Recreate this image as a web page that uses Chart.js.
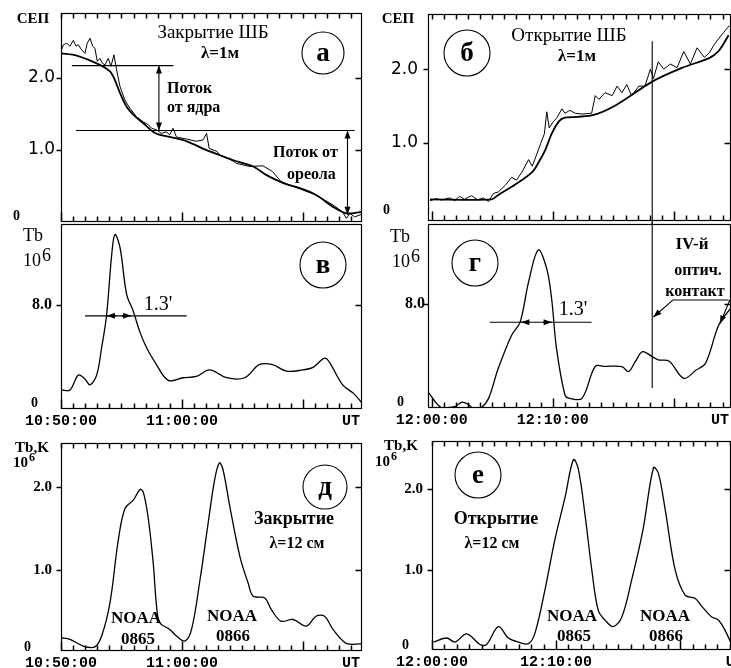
<!DOCTYPE html>
<html>
<head>
<meta charset="utf-8">
<title>СЕП и Tb</title>
<script src="https://cdn.jsdelivr.net/npm/chart.js@4.4.1/dist/chart.umd.min.js"></script>
<style>
  html, body { margin: 0; background: #fff; }
  #fig { position: relative; width: 731px; height: 668px; overflow: hidden; background: #fff; }
  #fig canvas { position: absolute; }
</style>
</head>
<body>
<div id="fig"></div>
<script>
// x values are minutes from the left edge of each record

// а: closing, lambda = 1 m
const aRawMin = [0,0.2,0.47,0.74,1.02,1.24,1.43,1.7,1.98,2.17,2.4,2.62,2.81,3.0,3.22,3.44,3.64,3.91,4.13,4.38,4.6,4.88,5.29,5.7,6.25,6.8,7.22,7.5,7.9,8.3,8.7,9.0,9.26,9.55,10.4,11.2,11.76,12.04,12.26,12.9,13.14,14.0,14.5,15.6,16.7,17.5,18.2,19.75,21.1,22.5,23.3,23.6,23.9,24.3,24.9];
const aRawSep = [2.37,2.46,2.48,2.44,2.52,2.44,2.46,2.39,2.34,2.48,2.55,2.44,2.41,2.23,2.27,2.2,2.18,2.27,2.16,2.32,2.11,1.88,1.69,1.58,1.46,1.39,1.35,1.3,1.28,1.23,1.25,1.21,1.30,1.18,1.15,1.12,1.14,1.23,1.02,0.98,0.93,0.87,0.815,0.77,0.78,0.70,0.56,0.46,0.375,0.236,0.14,0.05,0.12,0.07,0.11];
const aFitMin = [0,1.3,3.22,4.05,4.46,4.88,5.43,5.98,6.8,7.63,8.18,9.0,10.4,12.0,13.1,14.2,15.9,17.0,18.4,19.75,21.1,22.5,23.6,24.9];
const aFitSep = [2.34,2.31,2.18,2.09,1.97,1.79,1.60,1.49,1.37,1.25,1.21,1.18,1.12,1.0,0.93,0.86,0.77,0.65,0.54,0.47,0.375,0.21,0.12,0.14];

// б: opening, lambda = 1 m
const bRawMin = [0.17,0.72,1.1,1.8,2.2,2.6,3.0,3.6,4.1,4.55,5.0,5.4,5.8,6.37,6.9,7.3,7.75,8.3,8.6,8.9,9.3,9.6,9.8,10.0,10.35,10.6,11.05,11.3,11.7,12.15,12.7,13.5,13.8,14.1,14.6,15.2,15.6,16.0,16.4,16.8,17.4,17.9,18.35,18.6,19.0,19.45,20.0,20.55,21.1,21.65,22.2,22.8,23.2,23.6,24.0,24.4,24.85];
const bRawSep = [0.21,0.24,0.22,0.25,0.21,0.27,0.23,0.28,0.22,0.25,0.20,0.31,0.33,0.42,0.53,0.49,0.6,0.77,0.68,0.81,0.99,1.12,1.42,1.2,1.29,1.33,1.46,1.40,1.44,1.40,1.39,1.40,1.64,1.59,1.68,1.64,1.77,1.68,1.79,1.64,1.77,1.77,2.0,1.87,2.1,2.0,2.07,2.02,2.24,2.07,2.29,2.16,2.22,2.33,2.42,2.5,2.59];
const bFitMin = [0.17,5.26,5.8,7.2,8.6,9.12,9.67,10.2,10.8,11.3,13.5,15.5,18.5,21.0,23.2,24.0,24.8];
const bFitSep = [0.23,0.23,0.29,0.43,0.60,0.73,0.90,1.12,1.29,1.34,1.37,1.51,1.83,2.02,2.15,2.25,2.46];

// в / г: Tb, 10^6
const vMin = [0,0.74,1.43,1.98,2.4,2.95,3.36,3.77,4.19,4.46,4.88,5.43,5.98,6.53,7.08,7.77,8.87,10.1,11.2,12.3,13.7,15.2,16.4,17.5,18.65,20.0,20.85,21.8,22.2,23.3,24.2,24.9];
const vTb = [1.46,1.46,2.6,2.3,1.85,2.6,4.7,7.2,11.8,13.4,12.4,8.8,7.5,5.9,4.7,3.6,2.2,2.4,2.5,3.0,2.4,2.4,3.4,3.4,2.9,3.0,3.2,3.9,3.6,1.85,1.2,0.45];
const gMin = [0.03,1.1,2.2,2.8,3.3,3.9,4.4,5.0,5.8,6.9,7.6,8.3,9.1,9.8,10.2,10.6,11.3,11.7,12.7,13.8,14.6,16.0,16.55,17.1,17.7,18.5,19.0,19.9,21.1,22.1,22.9,24.0,25.0];
const gTb = [1.2,0.02,0.1,0.45,0.28,-0.15,0.02,0.74,3.05,5.6,6.6,9.7,12.15,10.7,8.4,4.6,1.0,0.74,0.74,3.2,3.2,3.18,2.8,3.56,4.33,3.95,3.7,3.6,2.28,2.9,3.44,6.4,7.7];

// д / е: Tb, K, 10^6, lambda = 12 cm
const dMin = [0,0.74,1.84,2.8,3.36,4.05,4.74,5.29,5.98,6.53,6.8,7.2,7.63,7.9,8.18,9.0,9.56,10.25,10.8,11.5,12.17,12.7,13.1,13.4,13.97,14.8,15.48,15.9,16.86,17.4,18.2,19.2,20.3,21.1,21.8,22.5,23.5,24.2,24.85];
const dTb = [0.18,0.16,0.08,0.07,0.2,0.6,1.36,1.74,1.84,1.97,1.94,1.64,1.08,0.57,0.36,0.28,0.2,0.14,0.28,0.88,1.56,2.08,2.29,2.21,1.76,1.16,0.84,0.68,0.66,0.52,0.38,0.4,0.32,0.44,0.44,0.28,0.12,0.1,0.11];
const eMin = [0.13,1.19,1.85,2.8,3.87,4.4,5.35,6.15,6.96,7.77,8.3,9.1,9.9,10.73,11.4,11.8,12.35,12.88,13.4,13.95,14.6,15.3,16.1,17.0,17.85,18.25,18.8,19.6,20.4,21.2,21.75,22.55,23.1,23.6,24.1];
const eTb = [0.11,0.16,0.11,0.21,0.08,0.08,0.3,0.16,0.11,0.09,0.22,0.75,1.37,1.9,2.36,2.24,1.66,1.0,0.5,0.38,0.3,0.42,0.88,1.49,2.26,2.19,1.74,1.0,0.69,0.65,0.55,0.42,0.38,0.26,0.1];

// tick labels
const closeTicks = [0, 10, 24];
const closeLabels = ['10:50:00', '11:00:00', 'UT'];
const openTicksG = [0.3, 10.3, 24.1];
const openTicksE = [0, 10, 24.4];
const openLabels = ['12:00:00', '12:10:00', 'UT'];
const sepTicks = [0, 1, 2];
const sepLabels = ['0', '1.0', '2.0'];
const tbTicks = [0, 8];
const tbLabels = ['0', '8.0'];
const tbkTicks = [0, 1, 2];
const tbkLabels = ['0', '1.0', '2.0'];

const SERIF = '"Liberation Serif", "DejaVu Serif", serif';
const SANS = '"DejaVu Sans", sans-serif';
const MONO = '"Liberation Mono", "DejaVu Sans Mono", monospace';
const ZERO_FONT = { family: SERIF, size: 14, weight: 'bold', lineHeight: 0.8 };

function arrowHead(ctx, fx, fy, tx, ty) {
  const a = Math.atan2(ty - fy, tx - fx);
  ctx.beginPath();
  ctx.moveTo(tx, ty);
  ctx.lineTo(tx - 8 * Math.cos(a) + 3 * Math.sin(a), ty - 8 * Math.sin(a) - 3 * Math.cos(a));
  ctx.lineTo(tx - 8 * Math.cos(a) - 3 * Math.sin(a), ty - 8 * Math.sin(a) + 3 * Math.cos(a));
  ctx.closePath();
  ctx.fill();
}

function decor(p) {
  return {
    id: 'decor',
    afterDraw(chart) {
      const ctx = chart.ctx;
      const ca = chart.chartArea;
      const xs = chart.scales.x, ys = chart.scales.y;
      const [cl, ct] = p.box;
      const seg = (x1, y1, x2, y2) => { ctx.beginPath(); ctx.moveTo(x1, y1); ctx.lineTo(x2, y2); ctx.stroke(); };
      ctx.save();
      ctx.strokeStyle = '#000';
      ctx.fillStyle = '#000';
      ctx.lineWidth = 1.2;

      // frame
      const L = Math.round(ca.left) + 0.5, R = Math.round(ca.right) - 0.5;
      const T = Math.round(ca.top) + 0.5, B = Math.round(ca.bottom) - 0.5;
      ctx.strokeRect(L, T, R - L, B - T);

      // one tick per minute, longer every ten minutes
      ctx.lineWidth = 1.5;
      const n = Math.floor(p.x[1] - p.tick0 + 1e-6);
      for (let k = 0; k <= n; k++) {
        const px = Math.round(xs.getPixelForValue(p.tick0 + k)) + 0.5;
        const len = k % 10 === 0 ? 9 : 5;
        if (p.tickTop) seg(px, T, px, T + 5);
        if (p.tickBottom) seg(px, B, px, B - len);
      }
      p.yTicks.forEach(v => {
        if (v === 0) return;
        const py = Math.round(ys.getPixelForValue(v)) + 0.5;
        seg(L - 5, py, L, py);
        seg(R, py, R - 6, py);
      });

      // annotation lines, in data units
      ctx.lineWidth = 1.1;
      (p.lines || []).forEach(l => {
        const x1 = xs.getPixelForValue(l.x1), y1 = ys.getPixelForValue(l.y1);
        const x2 = xs.getPixelForValue(l.x2), y2 = ys.getPixelForValue(l.y2);
        seg(x1, y1, x2, y2);
        if (l.head === 'end' || l.head === 'both') arrowHead(ctx, x1, y1, x2, y2);
        if (l.head === 'both') arrowHead(ctx, x2, y2, x1, y1);
      });

      // letter circle
      if (p.circle) {
        const [cx, cy, r, letter] = p.circle;
        ctx.beginPath();
        ctx.arc(cx - cl, cy - ct, r, 0, Math.PI * 2);
        ctx.stroke();
        ctx.font = 'bold 27px ' + SERIF;
        ctx.textAlign = 'center';
        ctx.textBaseline = 'middle';
        ctx.fillText(letter, cx - cl, cy - ct + 1);
      }

      // texts, page coordinates
      ctx.textBaseline = 'middle';
      (p.texts || []).forEach(t => {
        ctx.font = t.f;
        ctx.textAlign = t.a || 'center';
        ctx.fillText(t.t, t.x - cl, t.y - ct);
        if (t.sup) {
          const w = ctx.measureText(t.t).width;
          const sx = (t.a === 'left') ? t.x + w : t.x + w / 2;
          ctx.font = t.sf || t.f;
          ctx.textAlign = 'left';
          ctx.fillText(t.sup, sx - cl + 1, t.y - ct - 5);
        }
      });
      ctx.restore();
    }
  };
}

function makePanel(p) {
  const [cl, ct, cw, ch] = p.box;
  const [al, at, ar, ab] = p.area;
  const cv = document.createElement('canvas');
  cv.width = cw;
  cv.height = ch;
  cv.style.left = cl + 'px';
  cv.style.top = ct + 'px';
  document.getElementById('fig').appendChild(cv);

  const zeroLabel = ['0' + '\u2007'.repeat(p.zeroPad), ''];

  return new Chart(cv, {
    type: 'line',
    data: {
      datasets: p.series.map(s => ({
        data: s.x.map((v, i) => ({ x: v, y: s.y[i] })),
        borderColor: '#000',
        borderWidth: s.w,
        pointRadius: 0,
        tension: s.t,
        fill: false
      }))
    },
    options: {
      responsive: false,
      animation: false,
      events: [],
      layout: { padding: { left: 0, top: at - ct, right: cl + cw - ar, bottom: 0 } },
      plugins: { legend: { display: false }, tooltip: { enabled: false } },
      scales: {
        x: {
          type: 'linear',
          min: p.x[0],
          max: p.x[1],
          grid: { display: false, drawTicks: false },
          border: { display: false },
          ticks: {
            display: !!p.xLabels,
            padding: 3,
            maxRotation: 0,
            autoSkip: false,
            color: '#000',
            font: { family: MONO, size: 15, weight: 'bold' },
            callback: (v, i) => p.xLabels ? p.xLabels[i] : ''
          },
          afterBuildTicks: s => { s.ticks = p.xTicks.map(v => ({ value: v })); },
          afterFit: s => { s.height = ct + ch - ab; s.paddingLeft = 0; s.paddingRight = 0; }
        },
        y: {
          min: p.y[0],
          max: p.y[1],
          grid: { display: false, drawTicks: false },
          border: { display: false },
          ticks: {
            padding: p.yPad,
            autoSkip: false,
            color: '#000',
            font: c => (c.tick && c.tick.value === 0) ? ZERO_FONT : p.yFont,
            callback: (v, i) => v === 0 ? zeroLabel : p.yLabels[i]
          },
          afterBuildTicks: s => { s.ticks = p.yTicks.map(v => ({ value: v })); },
          afterFit: s => { s.width = al - cl; s.paddingTop = 0; s.paddingBottom = 0; }
        }
      }
    },
    plugins: [decor(p)]
  });
}

const B15 = 'bold 15px ' + SERIF;
const B16 = 'bold 16px ' + SERIF;
const B17 = 'bold 17px ' + SERIF;
const B18 = 'bold 18px ' + SERIF;

const panels = [
  { // а
    box: [0, 0, 366, 224], area: [61, 13, 362, 222], x: [0, 24.9], y: [0, 2.9],
    tick0: 0, tickTop: true, tickBottom: true, xTicks: [0, 10], xLabels: null,
    yTicks: sepTicks, yLabels: sepLabels, yFont: { family: SANS, size: 17 }, yPad: 6, zeroPad: 5,
    series: [{ x: aRawMin, y: aRawSep, w: 1, t: 0 }, { x: aFitMin, y: aFitSep, w: 1.8, t: 0.3 }],
    lines: [
      { x1: 0.9, y1: 2.17, x2: 9.3, y2: 2.17 },
      { x1: 1.24, y1: 1.27, x2: 24.3, y2: 1.27 },
      { x1: 8.1, y1: 2.17, x2: 8.1, y2: 1.27, head: 'both' },
      { x1: 23.7, y1: 1.27, x2: 23.7, y2: 0.1, head: 'both' }
    ],
    circle: [323, 53, 21, 'а'],
    texts: [
      { t: 'СЕП', x: 33, y: 19, f: B15 },
      { t: 'Закрытие ШБ', x: 213, y: 33, f: '19px ' + SERIF },
      { t: 'λ=1м', x: 220, y: 54, f: B17 },
      { t: 'Поток', x: 167, y: 89, f: B16, a: 'left' },
      { t: 'от ядра', x: 167, y: 108, f: B16, a: 'left' },
      { t: 'Поток от', x: 273, y: 153, f: B16, a: 'left' },
      { t: 'ореола', x: 287, y: 175, f: B16, a: 'left' }
    ]
  },
  { // б
    box: [365, 0, 366, 224], area: [428, 14, 731, 221], x: [0, 25], y: [-0.065, 2.75],
    tick0: 0.3, tickTop: true, tickBottom: true, xTicks: [0, 10], xLabels: null,
    yTicks: sepTicks, yLabels: sepLabels, yFont: { family: SANS, size: 17 }, yPad: 10, zeroPad: 4,
    series: [{ x: bRawMin, y: bRawSep, w: 1, t: 0 }, { x: bFitMin, y: bFitSep, w: 1.8, t: 0.3 }],
    lines: [{ x1: 18.5, y1: 2.38, x2: 18.5, y2: -0.15 }],
    circle: [467, 53, 23, 'б'],
    texts: [
      { t: 'СЕП', x: 398, y: 19, f: B15 },
      { t: 'Открытие ШБ', x: 569, y: 36, f: '19px ' + SERIF },
      { t: 'λ=1м', x: 577, y: 57, f: B17 }
    ]
  },
  { // в
    box: [0, 222, 366, 208], area: [61, 224, 362, 409], x: [0, 24.9], y: [0, 14.2],
    tick0: 0, tickTop: false, tickBottom: true, xTicks: closeTicks, xLabels: closeLabels,
    yTicks: tbTicks, yLabels: tbLabels, yFont: { family: SERIF, size: 16, weight: 'bold' }, yPad: 9, zeroPad: 2,
    series: [{ x: vMin, y: vTb, w: 1.3, t: 0.35 }],
    lines: [
      { x1: 1.98, y1: 7.15, x2: 10.4, y2: 7.15 },
      { x1: 4.6, y1: 7.15, x2: 3.8, y2: 7.15, head: 'end' },
      { x1: 5.0, y1: 7.15, x2: 5.8, y2: 7.15, head: 'end' }
    ],
    circle: [323, 265, 23, 'в'],
    texts: [
      { t: 'Tb', x: 33, y: 236, f: '18px ' + SERIF },
      { t: '10', x: 23, y: 261, f: '18px ' + SERIF, a: 'left', sup: '6' },
      { t: '1.3\'', x: 158, y: 305, f: '20px ' + SERIF }
    ]
  },
  { // г
    box: [365, 222, 366, 208], area: [428, 224, 731, 408], x: [0, 25], y: [0, 14.15],
    tick0: 0.3, tickTop: false, tickBottom: true, xTicks: openTicksG, xLabels: openLabels,
    yTicks: tbTicks, yLabels: tbLabels, yFont: { family: SERIF, size: 16, weight: 'bold' }, yPad: 3, zeroPad: 3,
    series: [{ x: gMin, y: gTb, w: 1.3, t: 0.35 }],
    lines: [
      { x1: 18.5, y1: 14.3, x2: 18.5, y2: 1.54 },
      { x1: 5.1, y1: 6.6, x2: 13.5, y2: 6.6 },
      { x1: 8.4, y1: 6.6, x2: 7.7, y2: 6.6, head: 'end' },
      { x1: 9.5, y1: 6.6, x2: 10.2, y2: 6.6, head: 'end' },
      { x1: 20.2, y1: 8.3, x2: 24.8, y2: 8.3 },
      { x1: 20.2, y1: 8.3, x2: 18.6, y2: 7.0, head: 'end' },
      { x1: 24.9, y1: 8.3, x2: 24.1, y2: 6.5, head: 'end' }
    ],
    circle: [475, 263, 23, 'г'],
    texts: [
      { t: 'Tb', x: 400, y: 237, f: '18px ' + SERIF },
      { t: '10', x: 392, y: 262, f: '18px ' + SERIF, a: 'left', sup: '6' },
      { t: '1.3\'', x: 573, y: 310, f: '20px ' + SERIF },
      { t: 'IV-й', x: 692, y: 245, f: B17 },
      { t: 'оптич.', x: 698, y: 271, f: B16 },
      { t: 'контакт', x: 695, y: 292, f: B16 }
    ]
  },
  { // д
    box: [0, 432, 366, 236], area: [61, 443, 362, 651], x: [0, 24.9], y: [0.02, 2.53],
    tick0: 0, tickTop: true, tickBottom: true, xTicks: closeTicks, xLabels: closeLabels,
    yTicks: tbkTicks, yLabels: tbkLabels, yFont: { family: SERIF, size: 15, weight: 'bold' }, yPad: 9, zeroPad: 3,
    series: [{ x: dMin, y: dTb, w: 1.3, t: 0.35 }],
    circle: [325, 487, 22, 'д'],
    texts: [
      { t: 'Tb,K', x: 32, y: 448, f: B15 },
      { t: '10', x: 13, y: 463, f: B15, a: 'left', sup: '6', sf: 'bold 12px ' + SERIF },
      { t: 'Закрытие', x: 294, y: 519, f: B18 },
      { t: 'λ=12 см', x: 297, y: 544, f: B16 },
      { t: 'NOAA', x: 136, y: 619, f: B17 },
      { t: '0865', x: 138, y: 640, f: B17 },
      { t: 'NOAA', x: 232, y: 617, f: B17 },
      { t: '0866', x: 233, y: 637, f: B17 }
    ]
  },
  { // е
    box: [365, 432, 366, 236], area: [432, 441, 731, 650], x: [0, 24.1], y: [0.012, 2.59],
    tick0: 0, tickTop: true, tickBottom: true, xTicks: openTicksE, xLabels: openLabels,
    yTicks: tbkTicks, yLabels: tbkLabels, yFont: { family: SERIF, size: 15, weight: 'bold' }, yPad: 9, zeroPad: 2,
    series: [{ x: eMin, y: eTb, w: 1.3, t: 0.35 }],
    circle: [478, 475, 23, 'е'],
    texts: [
      { t: 'Tb,K', x: 401, y: 446, f: B15 },
      { t: '10', x: 375, y: 462, f: B15, a: 'left', sup: '6', sf: 'bold 12px ' + SERIF },
      { t: 'Открытие', x: 496, y: 519, f: B18 },
      { t: 'λ=12 см', x: 492, y: 544, f: B16 },
      { t: 'NOAA', x: 572, y: 617, f: B17 },
      { t: '0865', x: 574, y: 637, f: B17 },
      { t: 'NOAA', x: 665, y: 617, f: B17 },
      { t: '0866', x: 666, y: 637, f: B17 }
    ]
  }
];

panels.forEach(makePanel);
</script>
</body>
</html>
